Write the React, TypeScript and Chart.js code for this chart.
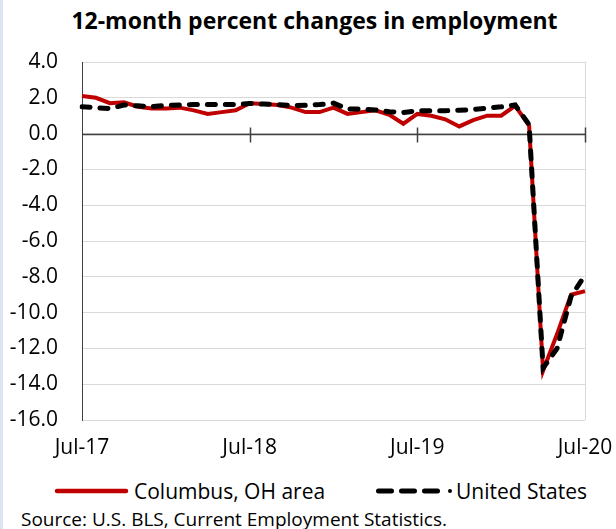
import React, { useEffect, useRef } from "react";
import { Chart, registerables } from "chart.js";

Chart.register(...registerables);

const months = [
  "Jul-17","Aug-17","Sep-17","Oct-17","Nov-17","Dec-17",
  "Jan-18","Feb-18","Mar-18","Apr-18","May-18","Jun-18",
  "Jul-18","Aug-18","Sep-18","Oct-18","Nov-18","Dec-18",
  "Jan-19","Feb-19","Mar-19","Apr-19","May-19","Jun-19",
  "Jul-19","Aug-19","Sep-19","Oct-19","Nov-19","Dec-19",
  "Jan-20","Feb-20","Mar-20","Apr-20","May-20","Jun-20",
  "Jul-20",
];

const columbus = [
  2.1, 2.0, 1.7, 1.75, 1.5, 1.4,
  1.4, 1.45, 1.3, 1.1, 1.2, 1.3,
  1.7, 1.65, 1.6, 1.45, 1.2, 1.2,
  1.45, 1.1, 1.2, 1.3, 1.05, 0.55,
  1.1, 1.0, 0.8, 0.4, 0.75, 1.0,
  1.0, 1.55, 0.45, -13.25, -11.2, -9.0,
  -8.8,
];

const unitedStates = [
  1.5, 1.45, 1.4, 1.6, 1.55, 1.5,
  1.58, 1.6, 1.62, 1.62, 1.62, 1.62,
  1.68, 1.65, 1.62, 1.56, 1.58, 1.62,
  1.7, 1.38, 1.38, 1.32, 1.22, 1.18,
  1.28, 1.28, 1.28, 1.3, 1.35, 1.42,
  1.5, 1.6, 0.5, -13.1, -12.0, -9.1,
  -7.9,
];

const shownTicks = ["Jul-17", "Jul-18", "Jul-19", "Jul-20"];
const yMin = -16;
const yMax = 4;
const yStep = 2;

const FONT = "'Open Sans', Lato, sans-serif";

const framePlugin = {
  id: "frame",
  beforeDatasetsDraw(chart: any) {
    const { ctx, chartArea, scales } = chart;
    ctx.save();
    ctx.strokeStyle = "#d9d9d9";
    ctx.lineWidth = 1;
    ctx.beginPath();
    ctx.moveTo(chartArea.right + 0.5, chartArea.top);
    ctx.lineTo(chartArea.right + 0.5, chartArea.bottom);
    ctx.stroke();
    const y0 = Math.round(scales.y.getPixelForValue(0)) + 0.5;
    ctx.strokeStyle = "#404040";
    ctx.lineWidth = 1.5;
    ctx.beginPath();
    ctx.moveTo(chartArea.left, y0);
    ctx.lineTo(chartArea.right, y0);
    ctx.stroke();
    months.forEach((m, i) => {
      if (i > 0 && i % 12 === 0) {
        const x = Math.round(scales.x.getPixelForValue(i)) + 0.5;
        ctx.beginPath();
        ctx.moveTo(x, y0 - 7);
        ctx.lineTo(x, y0 + 8);
        ctx.stroke();
      }
    });
    ctx.restore();
  },
};

export default function App() {
  const ref = useRef<HTMLCanvasElement>(null);

  useEffect(() => {
    if (!ref.current) return;
    const chart = new Chart(ref.current, {
      type: "line",
      data: {
        labels: months,
        datasets: [
          {
            label: "Columbus, OH area",
            data: columbus,
            borderColor: "#c00000",
            backgroundColor: "#c00000",
            borderWidth: 4,
            pointRadius: 0,
            tension: 0,
            order: 2,
          },
          {
            label: "United States",
            data: unitedStates,
            borderColor: "#000000",
            backgroundColor: "#000000",
            borderWidth: 5,
            borderDash: [8, 10],
            borderCapStyle: "round",
            pointRadius: 0,
            tension: 0,
            order: 1,
          },
        ],
      },
      options: {
        responsive: false,
        animation: false,
        devicePixelRatio: 1,
        layout: { padding: { top: 62, left: 0, right: 0, bottom: 0 } },
        plugins: {
          legend: { display: false },
          tooltip: { enabled: false },
          title: { display: false },
        },
        scales: {
          x: {
            type: "category",
            offset: false,
            grid: { display: false, drawTicks: false },
            border: { display: false },
            ticks: {
              autoSkip: false,
              maxRotation: 0,
              minRotation: 0,
              padding: 15,
              color: "#000",
              font: { family: FONT, size: 21 },
              callback: (v: any, i: number) =>
                shownTicks.includes(months[i]) ? months[i] : "",
            },
            afterFit: (s: any) => {
              s.height = 50;
              s.paddingLeft = 0;
              s.paddingRight = 31;
            },
          },
          y: {
            min: yMin,
            max: yMax,
            grid: { color: "#d9d9d9", drawTicks: false },
            border: { display: true, color: "#404040", width: 1 },
            ticks: {
              stepSize: yStep,
              padding: 24,
              color: "#000",
              font: { family: FONT, size: 21 },
              callback: (v: any) => Number(v).toFixed(1),
            },
            afterFit: (s: any) => {
              s.width = 82;
              s.paddingTop = 0;
              s.paddingBottom = 0;
            },
          },
        },
      },
      plugins: [framePlugin],
    });
    return () => chart.destroy();
  }, []);

  const legendText: React.CSSProperties = {
    position: "absolute",
    top: 476,
    height: 30,
    lineHeight: "30px",
    fontSize: 21,
    color: "#000",
    whiteSpace: "nowrap",
  };

  return (
    <div
      style={{
        position: "absolute",
        left: 0,
        top: 0,
        width: 616,
        height: 529,
        background: "#fff",
        overflow: "hidden",
        fontFamily: FONT,
      }}
    >
      <div
        style={{
          position: "absolute",
          left: 0,
          top: 0,
          width: 3,
          height: 529,
          background: "#dbe4f1",
        }}
      />
      <div
        style={{
          position: "absolute",
          left: 0,
          width: 616,
          top: 4,
          textAlign: "center",
          fontWeight: 700,
          fontSize: 23,
          paddingLeft: 13,
          boxSizing: "border-box",
          lineHeight: "32px",
          color: "#000",
          whiteSpace: "nowrap",
        }}
      >
        12-month percent changes in employment
      </div>
      <canvas
        ref={ref}
        width={616}
        height={470}
        style={{ position: "absolute", left: 0, top: 0, width: 616, height: 470 }}
      />
      <svg
        width={80}
        height={10}
        style={{ position: "absolute", left: 53, top: 486 }}
      >
        <line x1={4} y1={5} x2={73} y2={5} stroke="#c00000" strokeWidth={4.5} strokeLinecap="round" />
      </svg>
      <div style={{ ...legendText, left: 134 }}>Columbus, OH area</div>
      <svg
        width={82}
        height={10}
        style={{ position: "absolute", left: 374, top: 486 }}
      >
        <line x1={4.5} y1={5} x2={70} y2={5} stroke="#000" strokeWidth={5} strokeDasharray="13 10" strokeLinecap="round" />
        <circle cx={76} cy={5} r={2} fill="#000" />
      </svg>
      <div style={{ ...legendText, left: 456 }}>United States</div>
      <div
        style={{
          position: "absolute",
          top: 506,
          left: 21,
          fontSize: 19,
          lineHeight: "26px",
          color: "#000",
          whiteSpace: "nowrap",
        }}
      >
        Source: U.S. BLS, Current Employment Statistics.
      </div>
    </div>
  );
}
